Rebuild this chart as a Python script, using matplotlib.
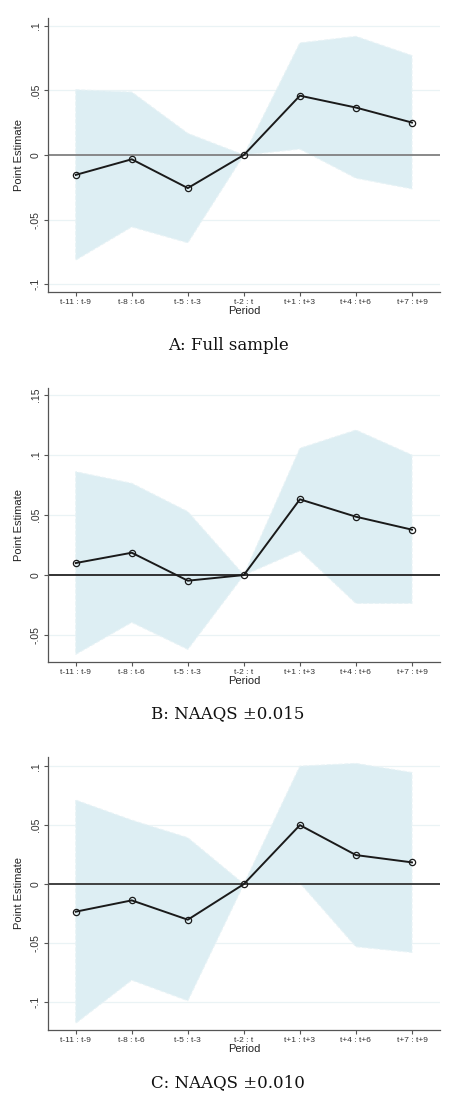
import numpy as np
import matplotlib
matplotlib.use("Agg")
from matplotlib import pyplot as plt

plt.rcParams["font.family"] = ["Liberation Sans", "DejaVu Sans"]

# ---------------------------------------------------------------------------
# Data
# ---------------------------------------------------------------------------
periods = ["t-11 : t-9", "t-8 : t-6", "t-5 : t-3", "t-2 : t",
           "t+1 : t+3", "t+4 : t+6", "t+7 : t+9"]

est_a = [-0.0154, -0.0033, -0.0256, 0.0, 0.0459, 0.0367, 0.0251]
upper_a = [0.0505, 0.0487, 0.0167, 0.0, 0.0867, 0.0918, 0.0769]
lower_a = [-0.0813, -0.0556, -0.0679, 0.0, 0.0046, -0.0179, -0.0262]

est_b = [0.0100, 0.0186, -0.0047, 0.0, 0.0631, 0.0486, 0.0378]
upper_b = [0.0861, 0.0764, 0.0528, 0.0, 0.1056, 0.1208, 0.1000]
lower_b = [-0.0661, -0.0394, -0.0619, 0.0, 0.0203, -0.0236, -0.0236]

est_c = [-0.0234, -0.0138, -0.0302, 0.0, 0.0500, 0.0246, 0.0184]
upper_c = [0.0712, 0.0542, 0.0393, 0.0, 0.1000, 0.1023, 0.0946]
lower_c = [-0.1180, -0.0814, -0.0989, 0.0, 0.0010, -0.0531, -0.0579]

captions = ["A: Full sample", "B: NAAQS \u00b10.015", "C: NAAQS \u00b10.010"]

yticks_a = [-0.1, -0.05, 0.0, 0.05, 0.1]
ytick_labels_a = ["-.1", "-.05", "0", ".05", ".1"]
yticks_b = [-0.05, 0.0, 0.05, 0.1, 0.15]
ytick_labels_b = ["-.05", "0", ".05", ".1", ".15"]
yticks_c = [-0.1, -0.05, 0.0, 0.05, 0.1]
ytick_labels_c = ["-.1", "-.05", "0", ".05", ".1"]

FILL = "#ddeef3"
GRID = "#eaf3f5"
AXIS = "#555555"

W, H = 458, 1101
fig = plt.figure(figsize=(W / 100, H / 100), dpi=100)


def px_axes(left, top, right, bottom):
    return fig.add_axes([left / W, 1 - bottom / H, (right - left) / W, (bottom - top) / H])


def draw_panel(ax, est, upper, lower, yticks, ylabels, ylim, zero_color):
    x = np.arange(len(periods))
    ax.fill_between(x, lower, upper, color=FILL, linewidth=0.8,
                    edgecolor="#e8f3f6", linestyle="--", zorder=1)
    ax.axhline(0, color=zero_color, linewidth=1.3, zorder=2)
    ax.plot(x, est, color="#1a1a1a", linewidth=1.4, marker="o",
            markersize=4.5, markerfacecolor="none", markeredgecolor="#1a1a1a",
            markeredgewidth=0.9, zorder=3)

    ax.set_xlim(-0.5, 6.5)
    ax.set_ylim(*ylim)
    ax.set_xticks(x)
    ax.set_xticklabels(periods, fontsize=6, color="#333333")
    ax.set_yticks(yticks)
    ax.set_yticklabels(ylabels, fontsize=7.5, rotation=90, va="center",
                       color="#333333")
    for t in yticks:
        if t != 0:
            ax.axhline(t, color=GRID, linewidth=0.9, zorder=0)
    ax.tick_params(axis="both", direction="out", length=3, width=0.8,
                   color=AXIS, pad=2)
    ax.spines["top"].set_visible(False)
    ax.spines["right"].set_visible(False)
    for side in ("left", "bottom"):
        ax.spines[side].set_color(AXIS)
        ax.spines[side].set_linewidth(0.9)
    ax.set_xlabel("Period", fontsize=8, labelpad=0, color="#222222")
    ax.set_ylabel("Point Estimate", fontsize=8, labelpad=5, color="#222222")


ax_a = px_axes(47.7, 18, 440, 292)
draw_panel(ax_a, est_a, upper_a, lower_a, yticks_a, ytick_labels_a,
           (-0.106, 0.106), "#808080")

ax_b = px_axes(47.7, 388.3, 440, 661.7)
draw_panel(ax_b, est_b, upper_b, lower_b, yticks_b, ytick_labels_b,
           (-0.0722, 0.1556), "#222222")

ax_c = px_axes(47.7, 756.7, 440, 1030)
draw_panel(ax_c, est_c, upper_c, lower_c, yticks_c, ytick_labels_c,
           (-0.1237, 0.108), "#333333")

for cap, ypix in zip(captions, [345.7, 714, 1083]):
    fig.text(228 / W, 1 - ypix / H, cap, ha="center", va="center",
             fontsize=12, family="DejaVu Serif", color="#111111")

fig.savefig("out.png", dpi=100)
plt.close(fig)
